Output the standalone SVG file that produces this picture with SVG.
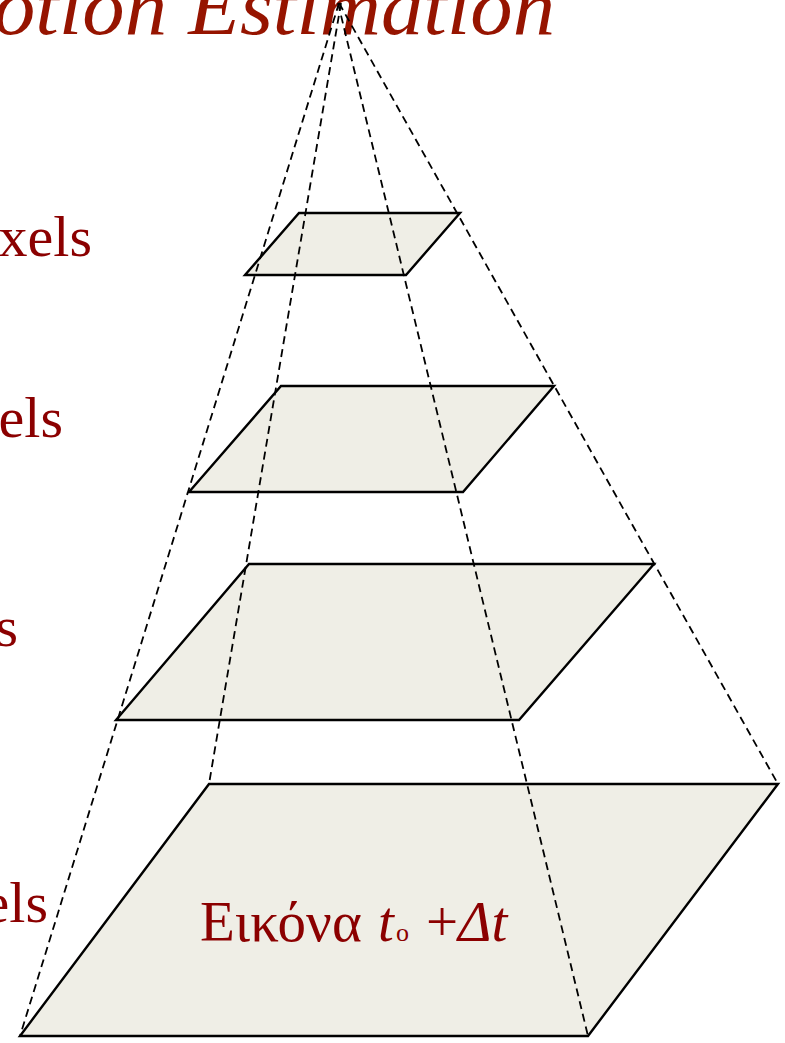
<svg xmlns="http://www.w3.org/2000/svg" width="785" height="1043" viewBox="0 0 785 1043">
<style>
.layer{fill:#EFEEE6;stroke:#000;stroke-width:2.4;stroke-linejoin:miter}
.dash{fill:none;stroke:#000;stroke-width:1.8;stroke-dasharray:8 5}
.lbl{font-family:"Liberation Serif","Times New Roman",serif;fill:#8B0000}
.title{font-family:"Liberation Serif","Times New Roman",serif;font-style:italic;fill:#961400}
</style>
<rect width="785" height="1043" fill="#fff"/>
<g id="title">
<text class="title" x="-7" y="34" font-size="80" textLength="562" lengthAdjust="spacingAndGlyphs">otion Estimation</text>
</g>
<g id="labels">
<text class="lbl" x="92" y="256" font-size="58" text-anchor="end">xels</text>
<text class="lbl" x="63" y="437" font-size="58" text-anchor="end">els</text>
<text class="lbl" x="18" y="646" font-size="58" text-anchor="end">s</text>
<text class="lbl" x="48" y="922" font-size="58" text-anchor="end">els</text>
</g>
<g id="layer1"><polygon class="layer" points="299,213 460,213 406,275 245,275"/></g>
<g id="layer2"><polygon class="layer" points="281,386 554,386 463,492 189,492"/></g>
<g id="layer3"><polygon class="layer" points="249,564 654,564 519,720 116,720"/></g>
<g id="layer4"><polygon class="layer" points="209,784 778,784 588,1036 20,1036"/>
<text class="lbl" x="200" y="941" font-size="57">Εικόνα</text>
<text class="lbl" x="378" y="941" font-size="57" font-style="italic">t</text>
<text class="lbl" x="396" y="941" font-size="26">o</text>
<text class="lbl" x="426" y="941" font-size="57">+</text>
<text class="lbl" x="458" y="941" font-size="57" font-style="italic">Δt</text>
</g>
<g id="connectors">
<line class="dash" x1="339" y1="3" x2="20" y2="1036"/>
<line class="dash" x1="341" y1="3" x2="209" y2="784"/>
<line class="dash" x1="338" y1="3" x2="588" y2="1036"/>
<line class="dash" x1="339" y1="3" x2="778" y2="784"/>
</g>
</svg>
